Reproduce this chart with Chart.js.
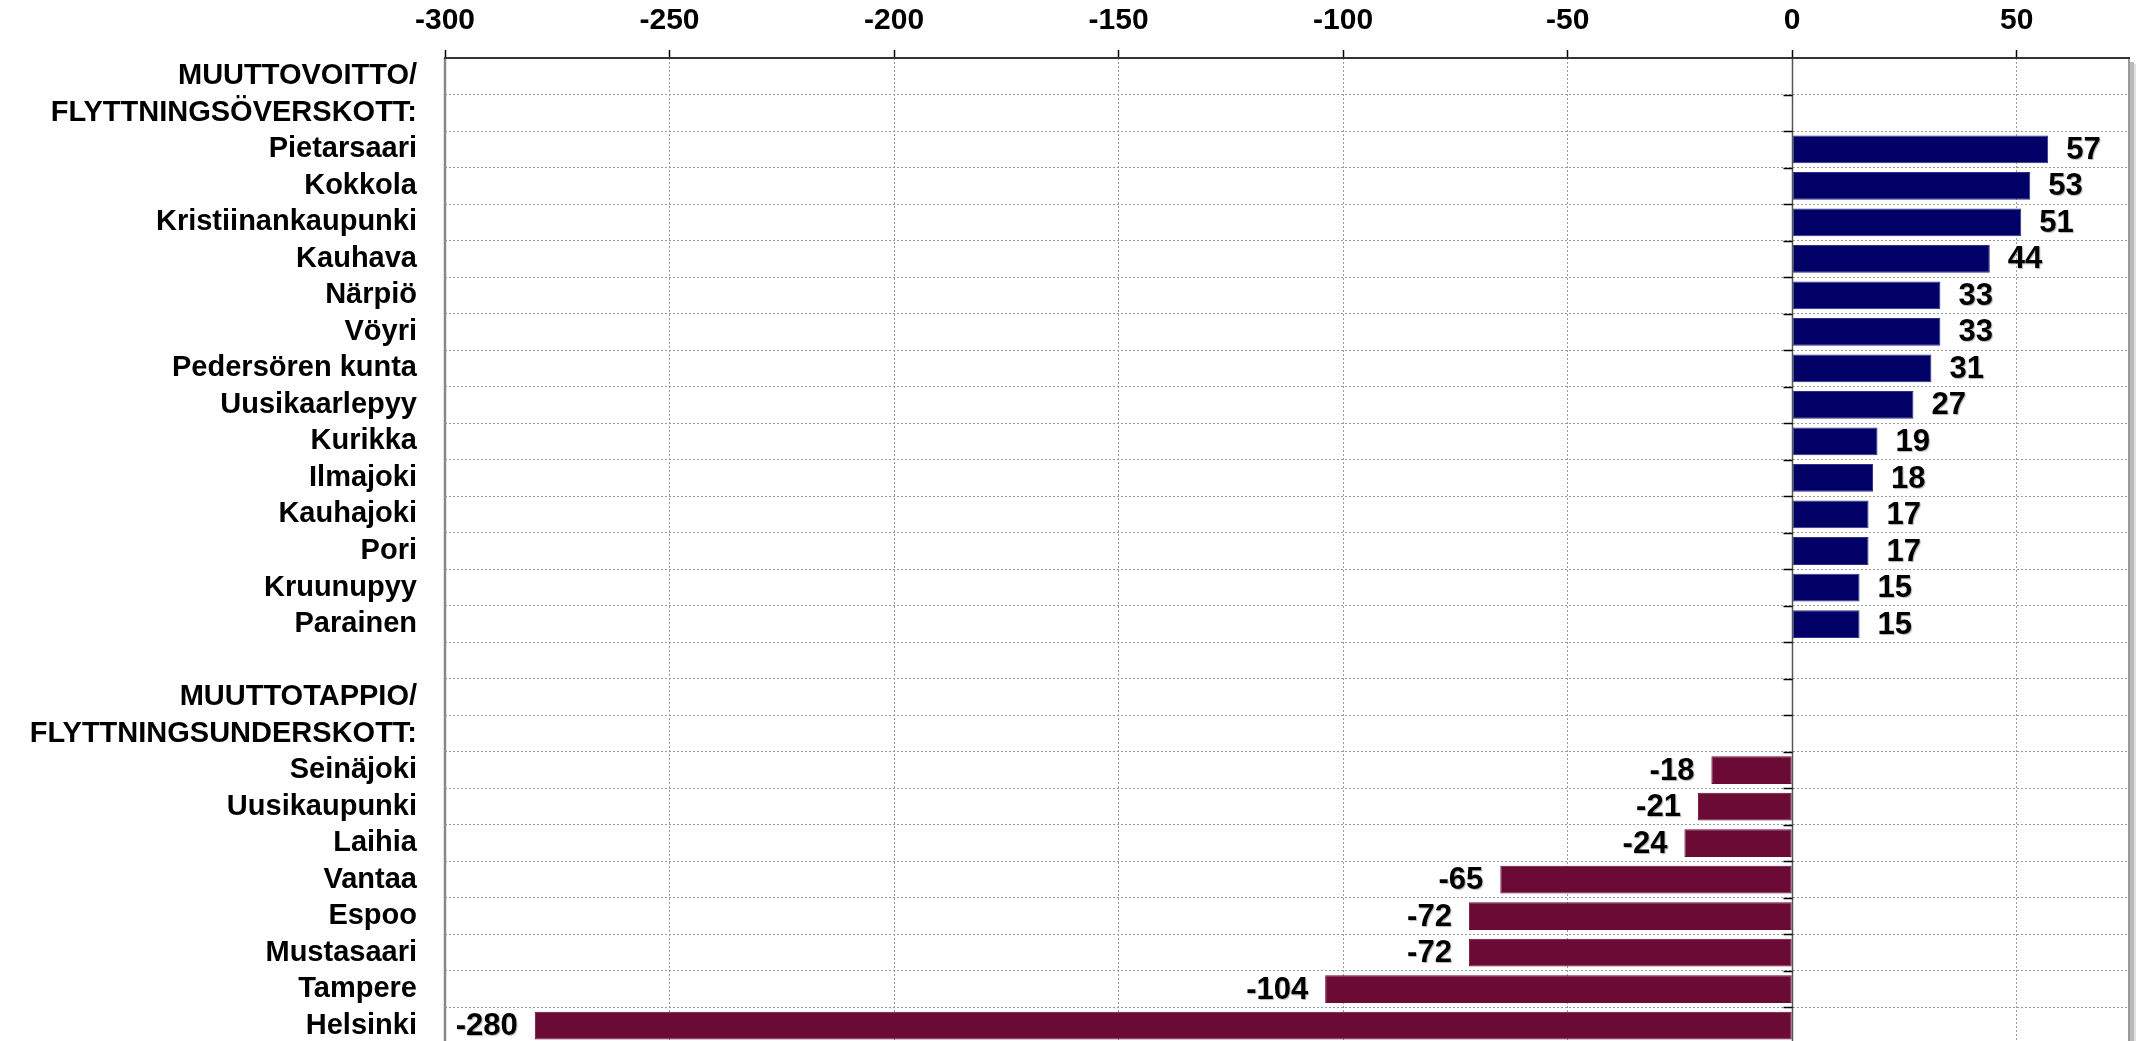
<!DOCTYPE html>
<html>
<head>
<meta charset="utf-8">
<script src="https://cdn.jsdelivr.net/npm/chart.js@4/dist/chart.umd.min.js"></script>
<style>
    html, body { margin: 0; padding: 0; background: #fff; overflow: hidden; }
    #wrap { width: 2138px; height: 1044px; position: relative; }
</style>
</head>
<body>
<div id="wrap"><canvas id="migrationChart"></canvas></div>
<script>
// Section headers
const gainHeader = ['MUUTTOVOITTO/', 'FLYTTNINGSÖVERSKOTT:'];
const lossHeader = ['MUUTTOTAPPIO/', 'FLYTTNINGSUNDERSKOTT:'];

// Net migration gain
const gainTowns = ['Pietarsaari', 'Kokkola', 'Kristiinankaupunki', 'Kauhava', 'Närpiö', 'Vöyri',
    'Pedersören kunta', 'Uusikaarlepyy', 'Kurikka', 'Ilmajoki', 'Kauhajoki', 'Pori', 'Kruunupyy', 'Parainen'];
const gainValues = [57, 53, 51, 44, 33, 33, 31, 27, 19, 18, 17, 17, 15, 15];

// Net migration loss
const lossTowns = ['Seinäjoki', 'Uusikaupunki', 'Laihia', 'Vantaa', 'Espoo', 'Mustasaari', 'Tampere', 'Helsinki'];
const lossValues = [-18, -21, -24, -65, -72, -72, -104, -280];

// Value axis
const xMin = -300;
const xMax = 75;
const xStep = 50;

const FONT = "'Liberation Sans', Arial, sans-serif";
const GAIN_COLOR = '#000066';
const LOSS_COLOR = '#6C0A36';

// build rows: headers get no value, one blank row between the groups
const labels = [...gainHeader, ...gainTowns, '', ...lossHeader, ...lossTowns];
const values = [
    ...gainHeader.map(() => null), ...gainValues,
    null,
    ...lossHeader.map(() => null), ...lossValues
];
const colors = values.map(v => (v !== null && v < 0) ? LOSS_COLOR : GAIN_COLOR);

// frame, zero line and its tick marks
const framePlugin = {
    id: 'frame',
    afterDatasetsDraw(chart) {
        const { ctx, chartArea: a, scales } = chart;
        ctx.save();
        // shadow on the right
        ctx.fillStyle = 'rgba(0,0,0,0.28)';
        ctx.fillRect(a.right + 1, a.top + 4, 4, a.bottom - a.top);
        ctx.fillStyle = 'rgba(0,0,0,0.12)';
        ctx.fillRect(a.right + 5, a.top + 6, 2, a.bottom - a.top);

        // zero line
        const x0 = Math.round(scales.x.getPixelForValue(0)) + 0.5;
        ctx.strokeStyle = '#555';
        ctx.lineWidth = 1.5;
        ctx.beginPath();
        ctx.moveTo(x0, a.top);
        ctx.lineTo(x0, a.bottom);
        ctx.stroke();
        // tick marks at category boundaries
        ctx.strokeStyle = '#000';
        ctx.lineWidth = 1.5;
        const n = chart.data.labels.length;
        const step = (a.bottom - a.top) / n;
        for (let i = 1; i < n; i++) {
            const y = Math.round(a.top + i * step) + 0.5;
            ctx.beginPath();
            ctx.moveTo(x0 - 9, y);
            ctx.lineTo(x0, y);
            ctx.stroke();
        }

        // left border
        ctx.strokeStyle = '#888';
        ctx.lineWidth = 2.5;
        ctx.beginPath();
        ctx.moveTo(a.left, a.top);
        ctx.lineTo(a.left, a.bottom);
        ctx.stroke();
        // right border
        ctx.strokeStyle = '#777';
        ctx.lineWidth = 1.5;
        ctx.beginPath();
        ctx.moveTo(a.right, a.top);
        ctx.lineTo(a.right, a.bottom);
        ctx.stroke();
        // top border
        ctx.strokeStyle = '#333';
        ctx.lineWidth = 2;
        ctx.beginPath();
        ctx.moveTo(a.left - 1, a.top);
        ctx.lineTo(a.right + 1, a.top);
        ctx.stroke();
        ctx.restore();
    }
};

// value labels next to bar ends
const valueLabels = {
    id: 'valueLabels',
    afterDraw(chart) {
        const { ctx } = chart;
        const meta = chart.getDatasetMeta(0);
        const data = chart.data.datasets[0].data;
        ctx.save();
        ctx.font = 'bold 31px ' + FONT;
        ctx.textBaseline = 'middle';
        ctx.fillStyle = '#000';
        ctx.shadowColor = 'rgba(0,0,0,0.3)';
        ctx.shadowOffsetX = 1;
        ctx.shadowOffsetY = 1;
        ctx.shadowBlur = 1;
        meta.data.forEach((bar, i) => {
            const v = data[i];
            if (v === null) return;
            if (v >= 0) {
                ctx.textAlign = 'left';
                ctx.fillText(String(v), bar.x + 18, bar.y + 1);
            } else {
                ctx.textAlign = 'right';
                ctx.fillText(String(v), bar.x - 17, bar.y + 1);
            }
        });
        ctx.restore();
    }
};

new Chart(document.getElementById('migrationChart'), {
    type: 'bar',
    data: {
        labels: labels,
        datasets: [{
            data: values,
            backgroundColor: colors,
            borderColor: values.map(v => (v !== null && v < 0) ? LOSS_COLOR : '#2c3188'),
            borderWidth: 1,
            borderSkipped: false,
            barPercentage: 0.76,
            categoryPercentage: 1
        }]
    },
    options: {
        indexAxis: 'y',
        responsive: true,
        maintainAspectRatio: false,
        animation: false,
        layout: { padding: { top: 0, right: 9, bottom: 0, left: 0 } },
        plugins: {
            legend: { display: false },
            tooltip: { enabled: false }
        },
        scales: {
            x: {
                type: 'linear',
                position: 'top',
                min: xMin,
                max: xMax,
                afterFit: scale => {
                    scale.height = 58;
                    scale.paddingLeft = 0;
                    scale.paddingRight = 0;
                },
                ticks: {
                    stepSize: xStep,
                    includeBounds: false,
                    color: '#000',
                    padding: 11,
                    font: { family: FONT, size: 30, weight: 'bold' }
                },
                grid: {
                    color: '#9a9a9a',
                    lineWidth: 1,
                    drawTicks: true,
                    tickLength: 8,
                    tickColor: '#000',
                    tickWidth: 1.5,
                    tickBorderDash: []
                },
                border: { display: false, dash: [2, 2] }
            },
            y: {
                afterFit: scale => {
                    scale.width = 445;
                    scale.paddingTop = 0;
                    scale.paddingBottom = 0;
                },
                ticks: {
                    color: '#000',
                    padding: 28,
                    autoSkip: false,
                    font: { family: FONT, size: 29, weight: 'bold' }
                },
                grid: {
                    color: '#9a9a9a',
                    lineWidth: 1,
                    drawTicks: false
                },
                border: { display: false, dash: [2, 2] }
            }
        }
    },
    plugins: [framePlugin, valueLabels]
});
</script>
</body>
</html>
